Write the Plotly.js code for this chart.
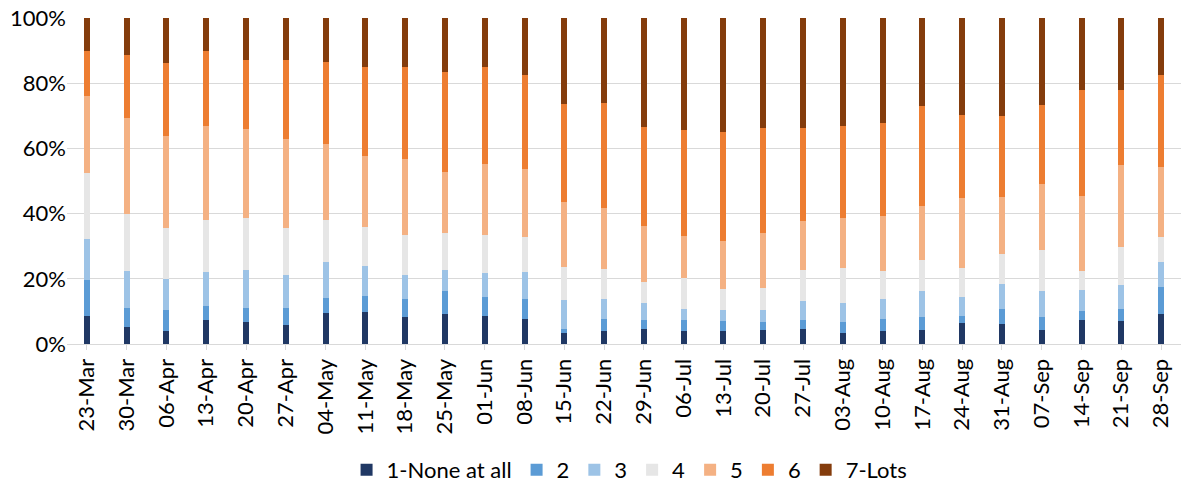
<!DOCTYPE html>
<html><head><meta charset="utf-8">
<script src="https://cdn.plot.ly/plotly-3.0.1.min.js"></script>
<style>html,body{margin:0;padding:0;background:#fff}#chart{width:1182px;height:486px}</style>
</head><body><div id="chart"></div>
<script>
const categories = ["23-Mar","30-Mar","06-Apr","13-Apr","20-Apr","27-Apr","04-May","11-May","18-May","25-May","01-Jun","08-Jun","15-Jun","22-Jun","29-Jun","06-Jul","13-Jul","20-Jul","27-Jul","03-Aug","10-Aug","17-Aug","24-Aug","31-Aug","07-Sep","14-Sep","21-Sep","28-Sep"];
const seriesNames = ["1-None at all","2","3","4","5","6","7-Lots"];
const s1 = [8.5,5.3,3.9,7.4,6.6,5.8,9.5,9.8,8.2,9.2,8.7,7.6,3.3,4.1,4.5,3.9,4.1,4.2,4.5,3.5,3.9,4.2,6.3,6.0,4.2,7.3,7.0,9.1];
const s2 = [11.0,5.6,6.5,4.2,4.3,5.2,4.6,4.9,5.5,7.0,5.7,6.2,1.2,3.5,2.8,3.4,2.9,2.5,2.8,3.2,3.7,4.0,2.2,4.7,4.0,2.8,3.7,8.4];
const s3 = [12.8,11.4,9.4,10.4,11.7,10.1,11.0,9.1,7.4,6.4,7.5,8.3,8.9,6.2,5.3,3.4,3.5,3.8,5.9,5.8,6.1,8.0,5.9,7.7,8.0,6.4,7.5,7.6];
const s4 = [20.2,17.6,15.9,16.0,16.0,14.5,12.8,12.1,12.3,11.4,11.4,10.7,10.2,9.1,6.4,9.6,6.3,6.8,9.6,10.9,8.7,9.7,8.8,9.1,12.7,5.9,11.6,7.7];
const s5 = [23.5,29.4,28.0,29.0,27.2,27.4,23.3,21.7,23.2,18.8,21.9,21.0,20.1,18.8,17.2,12.7,14.9,16.6,14.9,15.3,16.9,16.3,21.6,17.5,20.1,23.0,25.0,21.6];
const s6 = [13.8,19.4,22.4,22.8,21.4,24.2,25.2,27.3,28.3,30.6,29.7,28.6,29.8,32.3,30.5,32.7,33.4,32.3,28.7,28.2,28.6,30.7,25.3,24.9,24.2,32.4,23.0,28.0];
const s7 = [10.2,11.3,13.9,10.2,12.8,12.8,13.6,15.1,15.1,16.6,15.1,17.6,26.5,26.0,33.3,34.3,34.9,33.8,33.6,33.1,32.1,27.1,29.9,30.1,26.8,22.2,22.2,17.6];
const colors = ["#203864","#5B9BD5","#9DC3E6","#E6E6E6","#F4B183","#ED7D31","#843C0C"];
const values = [s1,s2,s3,s4,s5,s6,s7];
const traces = values.map((v,i)=>({type:"bar",name:seriesNames[i],x:categories,y:v,marker:{color:colors[i],line:{width:0}},hoverinfo:"x+y+name"}));
const font = "Lato, 'Open Sans', sans-serif";
const layout = {
  width:1182,height:486,
  margin:{l:67,r:1,t:18,b:142,autoexpand:false},
  barmode:"stack",barnorm:"percent",bargap:0.85,
  paper_bgcolor:"#fff",plot_bgcolor:"#fff",
  font:{family:font,color:"#000",size:22},
  xaxis:{type:"category",tickangle:-90,tickfont:{size:22,color:"#000"},showgrid:false,showline:true,linecolor:"#d9d9d9",linewidth:1,ticks:"outside",ticklen:5,tickcolor:"#d9d9d9",tickwidth:1,automargin:false},
  yaxis:{range:[0,100],tickvals:[0,20,40,60,80,100],ticktext:["0%","20%","40%","60%","80%","100%"],tickfont:{size:22,color:"#000"},showgrid:true,gridcolor:"#d9d9d9",gridwidth:1,zeroline:false,showline:false,ticks:"",automargin:false},
  legend:{orientation:"h",x:0.505,xanchor:"center",y:-0.386,yanchor:"middle",font:{size:22,color:"#000"},itemwidth:30,traceorder:"normal"},
  showlegend:true
};
Plotly.newPlot("chart",traces,layout,{displayModeBar:false,staticPlot:true});
</script></body></html>
